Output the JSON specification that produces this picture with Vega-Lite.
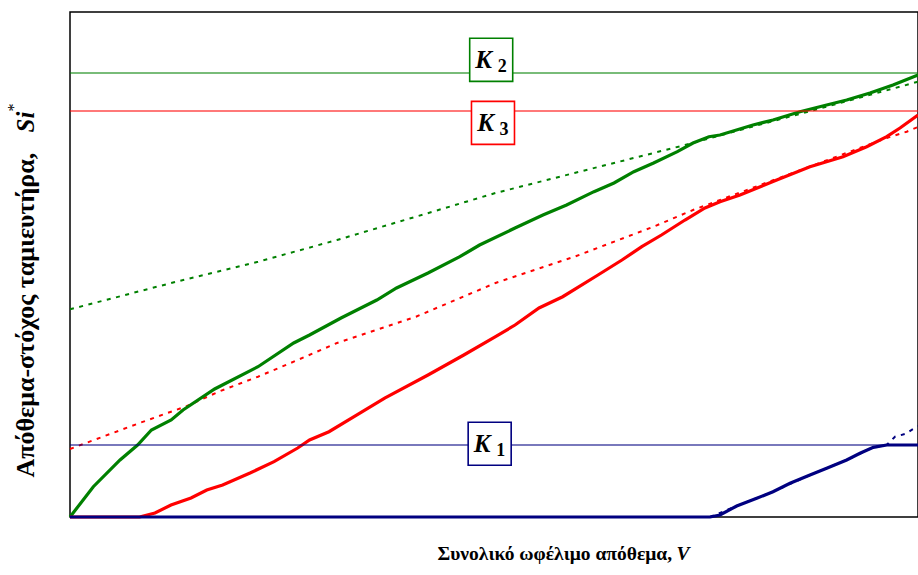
{
  "$schema": "https://vega.github.io/schema/vega-lite/v6.json",
  "width": 848,
  "height": 505,
  "autosize": {"type": "none"},
  "padding": {"left": 70, "top": 12, "right": 0, "bottom": 58},
  "background": "white",
  "config": {
    "view": {"stroke": "#000000", "strokeWidth": 1.5},
    "font": "Liberation Serif, DejaVu Serif, serif",
    "axis": {"ticks": false, "labels": false, "domain": false, "grid": false, "titleColor": "#000000", "titleFont": "Liberation Serif, DejaVu Serif, serif", "titleFontWeight": "bold"}
  },
  "datasets": {
    "curves": [
      {"V": 0, "S": 41.13, "series": "K2", "kind": "dotted"},
      {"V": 12.85, "S": 46.73, "series": "K2", "kind": "dotted"},
      {"V": 22.17, "S": 50.55, "series": "K2", "kind": "dotted"},
      {"V": 31.49, "S": 54.85, "series": "K2", "kind": "dotted"},
      {"V": 40.8, "S": 59.47, "series": "K2", "kind": "dotted"},
      {"V": 50.18, "S": 64.16, "series": "K2", "kind": "dotted"},
      {"V": 59.49, "S": 68.12, "series": "K2", "kind": "dotted"},
      {"V": 68.82, "S": 72.08, "series": "K2", "kind": "dotted"},
      {"V": 72.52, "S": 73.66, "series": "K2", "kind": "dotted"},
      {"V": 97.88, "S": 85.21, "series": "K2", "kind": "dotted"},
      {"V": 100, "S": 86.2, "series": "K2", "kind": "dotted"},

      {"V": 0, "S": 13.47, "series": "K3", "kind": "dotted"},
      {"V": 8.2, "S": 18.61, "series": "K3", "kind": "dotted"},
      {"V": 13.8, "S": 21.98, "series": "K3", "kind": "dotted"},
      {"V": 17.52, "S": 24.81, "series": "K3", "kind": "dotted"},
      {"V": 22.17, "S": 27.78, "series": "K3", "kind": "dotted"},
      {"V": 26.85, "S": 31.09, "series": "K3", "kind": "dotted"},
      {"V": 31.49, "S": 34.46, "series": "K3", "kind": "dotted"},
      {"V": 40.8, "S": 39.66, "series": "K3", "kind": "dotted"},
      {"V": 50.18, "S": 46.34, "series": "K3", "kind": "dotted"},
      {"V": 59.49, "S": 51.54, "series": "K3", "kind": "dotted"},
      {"V": 68.82, "S": 57.49, "series": "K3", "kind": "dotted"},
      {"V": 73.47, "S": 60.79, "series": "K3", "kind": "dotted"},
      {"V": 96.31, "S": 75.05, "series": "K3", "kind": "dotted"},
      {"V": 98.67, "S": 76.3, "series": "K3", "kind": "dotted"},
      {"V": 100, "S": 77.23, "series": "K3", "kind": "dotted"},

      {"V": 75.47, "S": 0, "series": "K1", "kind": "dotted"},
      {"V": 78.62, "S": 2.18, "series": "K1", "kind": "dotted"},
      {"V": 82.9, "S": 5.01, "series": "K1", "kind": "dotted"},
      {"V": 87.26, "S": 8.32, "series": "K1", "kind": "dotted"},
      {"V": 91.59, "S": 11.29, "series": "K1", "kind": "dotted"},
      {"V": 94.73, "S": 13.8, "series": "K1", "kind": "dotted"},
      {"V": 96.31, "S": 14.26, "series": "K1", "kind": "dotted"},
      {"V": 97.29, "S": 15.9, "series": "K1", "kind": "dotted"},
      {"V": 98.47, "S": 16.44, "series": "K1", "kind": "dotted"},
      {"V": 100, "S": 18.0, "series": "K1", "kind": "dotted"},

      {"V": 0, "S": 0, "series": "K2", "kind": "solid"},
      {"V": 2.75, "S": 6.0, "series": "K2", "kind": "solid"},
      {"V": 5.9, "S": 11.29, "series": "K2", "kind": "solid"},
      {"V": 7.97, "S": 14.26, "series": "K2", "kind": "solid"},
      {"V": 9.6, "S": 17.23, "series": "K2", "kind": "solid"},
      {"V": 11.93, "S": 19.21, "series": "K2", "kind": "solid"},
      {"V": 13.33, "S": 21.19, "series": "K2", "kind": "solid"},
      {"V": 17.06, "S": 25.35, "series": "K2", "kind": "solid"},
      {"V": 22.17, "S": 29.76, "series": "K2", "kind": "solid"},
      {"V": 26.38, "S": 34.46, "series": "K2", "kind": "solid"},
      {"V": 28.25, "S": 36.04, "series": "K2", "kind": "solid"},
      {"V": 31.96, "S": 39.41, "series": "K2", "kind": "solid"},
      {"V": 36.18, "S": 42.97, "series": "K2", "kind": "solid"},
      {"V": 38.51, "S": 45.35, "series": "K2", "kind": "solid"},
      {"V": 42.22, "S": 48.32, "series": "K2", "kind": "solid"},
      {"V": 45.97, "S": 51.54, "series": "K2", "kind": "solid"},
      {"V": 48.3, "S": 53.86, "series": "K2", "kind": "solid"},
      {"V": 52.48, "S": 57.23, "series": "K2", "kind": "solid"},
      {"V": 55.77, "S": 59.8, "series": "K2", "kind": "solid"},
      {"V": 58.56, "S": 61.78, "series": "K2", "kind": "solid"},
      {"V": 61.79, "S": 64.42, "series": "K2", "kind": "solid"},
      {"V": 64.15, "S": 66.14, "series": "K2", "kind": "solid"},
      {"V": 66.49, "S": 68.38, "series": "K2", "kind": "solid"},
      {"V": 68.82, "S": 70.1, "series": "K2", "kind": "solid"},
      {"V": 71.62, "S": 72.34, "series": "K2", "kind": "solid"},
      {"V": 73.47, "S": 74.06, "series": "K2", "kind": "solid"},
      {"V": 75.35, "S": 75.31, "series": "K2", "kind": "solid"},
      {"V": 76.65, "S": 75.64, "series": "K2", "kind": "solid"},
      {"V": 80.54, "S": 77.62, "series": "K2", "kind": "solid"},
      {"V": 82.9, "S": 78.61, "series": "K2", "kind": "solid"},
      {"V": 86.08, "S": 80.26, "series": "K2", "kind": "solid"},
      {"V": 89.23, "S": 81.58, "series": "K2", "kind": "solid"},
      {"V": 91.59, "S": 82.57, "series": "K2", "kind": "solid"},
      {"V": 94.34, "S": 83.96, "series": "K2", "kind": "solid"},
      {"V": 97.05, "S": 85.54, "series": "K2", "kind": "solid"},
      {"V": 100, "S": 87.52, "series": "K2", "kind": "solid"},

      {"V": 0, "S": 0, "series": "K3", "kind": "solid"},
      {"V": 8.2, "S": 0, "series": "K3", "kind": "solid"},
      {"V": 10.02, "S": 0.79, "series": "K3", "kind": "solid"},
      {"V": 11.91, "S": 2.38, "series": "K3", "kind": "solid"},
      {"V": 14.27, "S": 3.76, "series": "K3", "kind": "solid"},
      {"V": 16.13, "S": 5.35, "series": "K3", "kind": "solid"},
      {"V": 18.0, "S": 6.34, "series": "K3", "kind": "solid"},
      {"V": 21.23, "S": 8.71, "series": "K3", "kind": "solid"},
      {"V": 24.06, "S": 10.95, "series": "K3", "kind": "solid"},
      {"V": 26.85, "S": 13.66, "series": "K3", "kind": "solid"},
      {"V": 28.25, "S": 15.25, "series": "K3", "kind": "solid"},
      {"V": 30.54, "S": 16.89, "series": "K3", "kind": "solid"},
      {"V": 33.84, "S": 20.2, "series": "K3", "kind": "solid"},
      {"V": 37.11, "S": 23.56, "series": "K3", "kind": "solid"},
      {"V": 42.22, "S": 28.12, "series": "K3", "kind": "solid"},
      {"V": 46.44, "S": 32.08, "series": "K3", "kind": "solid"},
      {"V": 50.18, "S": 35.7, "series": "K3", "kind": "solid"},
      {"V": 52.48, "S": 38.02, "series": "K3", "kind": "solid"},
      {"V": 55.31, "S": 41.39, "series": "K3", "kind": "solid"},
      {"V": 58.1, "S": 43.62, "series": "K3", "kind": "solid"},
      {"V": 62.26, "S": 47.92, "series": "K3", "kind": "solid"},
      {"V": 65.09, "S": 50.89, "series": "K3", "kind": "solid"},
      {"V": 67.43, "S": 53.52, "series": "K3", "kind": "solid"},
      {"V": 69.75, "S": 55.84, "series": "K3", "kind": "solid"},
      {"V": 72.52, "S": 58.81, "series": "K3", "kind": "solid"},
      {"V": 74.88, "S": 61.19, "series": "K3", "kind": "solid"},
      {"V": 76.65, "S": 62.44, "series": "K3", "kind": "solid"},
      {"V": 79.01, "S": 63.76, "series": "K3", "kind": "solid"},
      {"V": 83.34, "S": 66.73, "series": "K3", "kind": "solid"},
      {"V": 87.26, "S": 69.37, "series": "K3", "kind": "solid"},
      {"V": 91.16, "S": 71.35, "series": "K3", "kind": "solid"},
      {"V": 93.95, "S": 73.33, "series": "K3", "kind": "solid"},
      {"V": 96.31, "S": 75.31, "series": "K3", "kind": "solid"},
      {"V": 97.88, "S": 77.03, "series": "K3", "kind": "solid"},
      {"V": 100, "S": 79.6, "series": "K3", "kind": "solid"},

      {"V": 0, "S": 0, "series": "K1", "kind": "solid"},
      {"V": 75.47, "S": 0, "series": "K1", "kind": "solid"},
      {"V": 76.65, "S": 0.4, "series": "K1", "kind": "solid"},
      {"V": 78.62, "S": 2.18, "series": "K1", "kind": "solid"},
      {"V": 80.98, "S": 3.7, "series": "K1", "kind": "solid"},
      {"V": 82.9, "S": 5.01, "series": "K1", "kind": "solid"},
      {"V": 84.91, "S": 6.67, "series": "K1", "kind": "solid"},
      {"V": 87.26, "S": 8.32, "series": "K1", "kind": "solid"},
      {"V": 89.23, "S": 9.64, "series": "K1", "kind": "solid"},
      {"V": 91.59, "S": 11.29, "series": "K1", "kind": "solid"},
      {"V": 93.16, "S": 12.61, "series": "K1", "kind": "solid"},
      {"V": 94.73, "S": 13.8, "series": "K1", "kind": "solid"},
      {"V": 96.31, "S": 14.26, "series": "K1", "kind": "solid"},
      {"V": 100, "S": 14.26, "series": "K1", "kind": "solid"}
    ],
    "limits": [
      {"series": "K1", "S": 14.26, "lx": 49.49, "ly": 14.51, "digit": "1"},
      {"series": "K2", "S": 87.92, "lx": 49.67, "ly": 90.53, "digit": "2"},
      {"series": "K3", "S": 80.4, "lx": 49.88, "ly": 78.04, "digit": "3"}
    ]
  },
  "layer": [
    {
      "data": {"name": "curves"},
      "transform": [{"filter": "datum.kind === 'dotted'"}],
      "mark": {"type": "line", "strokeWidth": 2, "strokeDash": [4, 5.5], "interpolate": "linear"},
      "encoding": {
        "x": {"field": "V", "type": "quantitative", "scale": {"domain": [0, 100], "nice": false},
              "axis": {"orient": "bottom", "title": "Συνολικό ωφέλιμο απόθεμα,", "titleFontSize": 19.5, "titleAlign": "left", "titleAnchor": "start", "titleBaseline": "alphabetic", "titleX": 367, "titleY": 42}},
        "y": {"field": "S", "type": "quantitative", "scale": {"domain": [0, 100], "nice": false},
              "axis": {"orient": "left", "title": "Απόθεμα-στόχος ταμιευτήρα,", "titleFontSize": 26, "titleAngle": -90, "titleAlign": "left", "titleAnchor": "start", "titleBaseline": "alphabetic", "titleX": -37, "titleY": 465}},
        "color": {"field": "series", "type": "nominal", "scale": {"domain": ["K1", "K2", "K3"], "range": ["#000080", "#008000", "#ff0000"]}, "legend": null}
      }
    },
    {
      "data": {"name": "curves"},
      "transform": [{"filter": "datum.kind === 'solid'"}],
      "mark": {"type": "line", "strokeWidth": 3.2, "interpolate": "linear"},
      "encoding": {
        "x": {"field": "V", "type": "quantitative", "scale": {"domain": [0, 100], "nice": false},
              "axis": {"orient": "bottom", "title": "V", "titleFontSize": 19.5, "titleFontStyle": "italic", "titleAlign": "left", "titleAnchor": "start", "titleBaseline": "alphabetic", "titleX": 606, "titleY": 42}},
        "y": {"field": "S", "type": "quantitative", "scale": {"domain": [0, 100], "nice": false},
              "axis": {"orient": "left", "title": "Si", "titleFontSize": 25, "titleFontStyle": "italic", "titleAngle": -90, "titleAlign": "left", "titleAnchor": "start", "titleBaseline": "alphabetic", "titleX": -37, "titleY": 120}},
        "color": {"field": "series", "type": "nominal", "scale": {"domain": ["K1", "K2", "K3"], "range": ["#000080", "#008000", "#ff0000"]}, "legend": null}
      }
    },
    {
      "data": {"name": "limits"},
      "mark": {"type": "rule", "strokeWidth": 1.3, "opacity": 0.7},
      "encoding": {
        "y": {"field": "S", "type": "quantitative", "scale": {"domain": [0, 100], "nice": false},
              "axis": {"orient": "left", "title": "*", "titleFontSize": 16, "titleFontWeight": "normal", "titleAngle": -90, "titleAlign": "left", "titleAnchor": "start", "titleBaseline": "alphabetic", "titleX": -52, "titleY": 99}},
        "color": {"field": "series", "type": "nominal", "scale": {"domain": ["K1", "K2", "K3"], "range": ["#000080", "#008000", "#ff0000"]}, "legend": null}
      }
    },
    {
      "data": {"name": "limits"},
      "mark": {"type": "point", "shape": "square", "size": 1850, "filled": false, "fill": "white", "fillOpacity": 1, "strokeWidth": 1.6, "opacity": 1},
      "encoding": {
        "x": {"field": "lx", "type": "quantitative", "scale": {"domain": [0, 100], "nice": false}, "axis": null},
        "y": {"field": "ly", "type": "quantitative", "scale": {"domain": [0, 100], "nice": false}, "axis": null},
        "color": {"field": "series", "type": "nominal", "scale": {"domain": ["K1", "K2", "K3"], "range": ["#000080", "#008000", "#ff0000"]}, "legend": null}
      }
    },
    {
      "data": {"name": "limits"},
      "mark": {"type": "text", "text": "K", "font": "Liberation Serif, DejaVu Serif, serif", "fontSize": 25, "fontWeight": "bold", "fontStyle": "italic", "align": "center", "baseline": "alphabetic", "dx": -7.5, "dy": 8, "color": "#000000"},
      "encoding": {
        "x": {"field": "lx", "type": "quantitative", "scale": {"domain": [0, 100], "nice": false}, "axis": null},
        "y": {"field": "ly", "type": "quantitative", "scale": {"domain": [0, 100], "nice": false}, "axis": null}
      }
    },
    {
      "data": {"name": "limits"},
      "mark": {"type": "text", "font": "Liberation Serif, DejaVu Serif, serif", "fontSize": 18, "fontWeight": "bold", "align": "center", "baseline": "alphabetic", "dx": 11, "dy": 12.5, "color": "#000000"},
      "encoding": {
        "x": {"field": "lx", "type": "quantitative", "scale": {"domain": [0, 100], "nice": false}, "axis": null},
        "y": {"field": "ly", "type": "quantitative", "scale": {"domain": [0, 100], "nice": false}, "axis": null},
        "text": {"field": "digit", "type": "nominal"}
      }
    }
  ],
  "resolve": {"axis": {"x": "independent", "y": "independent"}}
}
